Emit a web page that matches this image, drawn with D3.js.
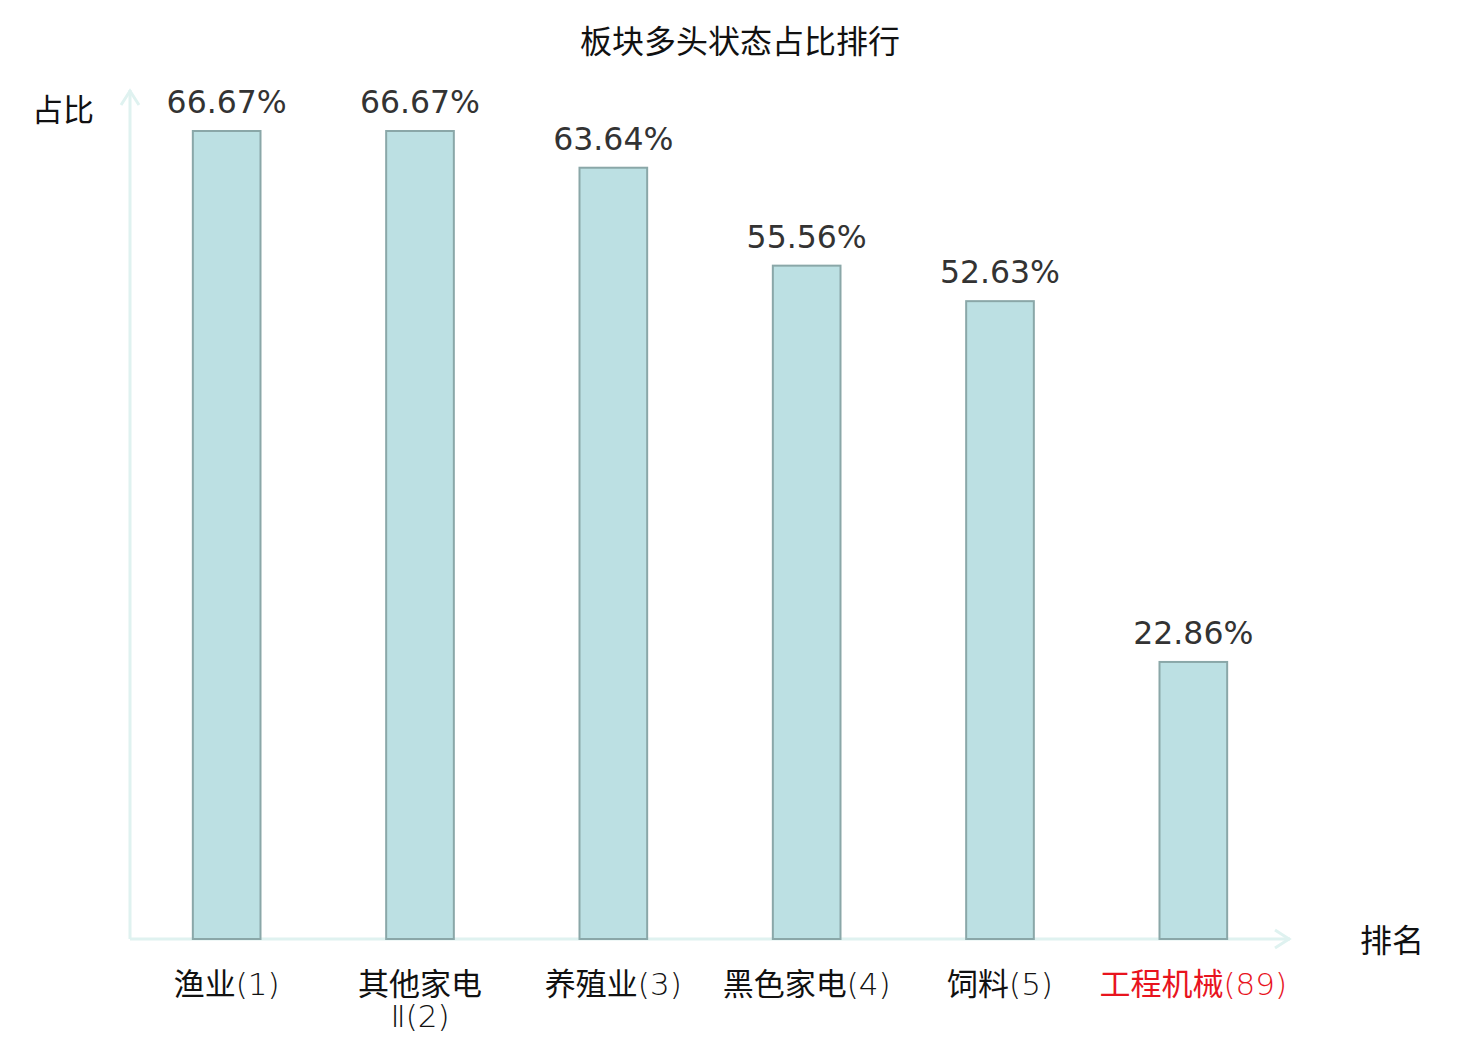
<!DOCTYPE html>
<html><head><meta charset="utf-8">
<script src="https://cdn.jsdelivr.net/npm/d3@7"></script>
<style>body{margin:0;background:#fff}svg{display:block}</style>
</head><body>
<svg id="c" width="1480" height="1040"></svg>
<script>
const categories = ["渔业(1)", "其他家电Ⅱ(2)", "养殖业(3)", "黑色家电(4)", "饲料(5)", "工程机械(89)"];
const categoryLines = [["渔业(1)"], ["其他家电", "Ⅱ(2)"], ["养殖业(3)"], ["黑色家电(4)"], ["饲料(5)"], ["工程机械(89)"]];
const values = [66.67, 66.67, 63.64, 55.56, 52.63, 22.86];
const highlight = [false, false, false, false, false, true];
const title = "板块多头状态占比排行";
const yTitle = "占比";
const xTitle = "排名";

const svg = d3.select("#c");
const x0 = 130, x1 = 1290, yBase = 939, yTop = 131;
const axisColor = "#dff2f0";
const cjk = "'Noto Sans CJK SC', 'DejaVu Sans', sans-serif";
const num = "'DejaVu Sans', 'Noto Sans CJK SC', sans-serif";
const thin = "'DejaVu Sans Light', 'DejaVu Sans', sans-serif";

const x = d3.scaleBand().domain(categories).range([x0, x1]).paddingInner(0.65).paddingOuter(0.325);
const y = d3.scaleLinear().domain([0, d3.max(values)]).range([yBase, yTop]);

svg.append("text").attr("x", 740).attr("y", 53).attr("text-anchor", "middle")
  .style("font-family", cjk).style("font-size", "32px").attr("fill", "#111").text(title);

// axes
svg.append("line").attr("x1", x0).attr("y1", yBase).attr("x2", x0).attr("y2", 90)
  .attr("stroke", axisColor).attr("stroke-width", 3);
svg.append("path").attr("d", `M${x0-9},${105} L${x0},${91} L${x0+9},${105}`)
  .attr("fill", "none").attr("stroke", axisColor).attr("stroke-width", 3);
svg.append("line").attr("x1", x0).attr("y1", yBase).attr("x2", 1290).attr("y2", yBase)
  .attr("stroke", axisColor).attr("stroke-width", 3);
svg.append("path").attr("d", `M${1275},${yBase-9} L${1289},${yBase} L${1275},${yBase+9}`)
  .attr("fill", "none").attr("stroke", axisColor).attr("stroke-width", 3);

svg.append("text").attr("x", 63).attr("y", 121).attr("text-anchor", "middle")
  .style("font-family", cjk).style("font-size", "31px").attr("fill", "#111").text(yTitle);
svg.append("text").attr("x", 1392).attr("y", 952).attr("text-anchor", "middle")
  .style("font-family", cjk).style("font-size", "32px").attr("fill", "#111").text(xTitle);

const data = categories.map((c, i) => ({c, v: values[i], h: highlight[i], lines: categoryLines[i]}));

svg.selectAll("rect.bar").data(data).join("rect").attr("class", "bar")
  .attr("x", d => x(d.c)).attr("width", x.bandwidth())
  .attr("y", d => y(d.v)).attr("height", d => yBase - y(d.v))
  .attr("fill", "#bce0e3").attr("stroke", "#8aa7a8").attr("stroke-width", 2);

svg.selectAll("text.val").data(data).join("text").attr("class", "val")
  .attr("x", d => x(d.c) + x.bandwidth() / 2).attr("y", d => y(d.v) - 18)
  .attr("text-anchor", "middle").style("font-family", num).style("font-size", "31.5px")
  .attr("fill", "#333").text(d => d.v.toFixed(2) + "%");

// category labels: CJK runs regular, others thin
const isCJK = ch => /[\u4e00-\u9fff]/.test(ch);
svg.selectAll("text.cat").data(data).join("text").attr("class", "cat")
  .attr("text-anchor", "middle").style("font-size", "31px")
  .attr("fill", d => d.h ? "#e8141e" : "#111")
  .each(function(d) {
    const t = d3.select(this);
    const cx = x(d.c) + x.bandwidth() / 2;
    d.lines.forEach((l, li) => {
      const runs = [];
      for (const ch of Array.from(l)) {
        const k = isCJK(ch);
        if (runs.length && runs[runs.length - 1].k === k) runs[runs.length - 1].s += ch;
        else runs.push({k, s: ch});
      }
      runs.forEach((r, ri) => {
        const ts = t.append("tspan").text(r.s)
          .style("font-family", r.k ? cjk : thin)
          .style("font-weight", r.k ? 400 : 200);
        if (ri === 0) ts.attr("x", cx).attr("y", 995 + li * 32);
      });
    });
  });
</script>
</body></html>
